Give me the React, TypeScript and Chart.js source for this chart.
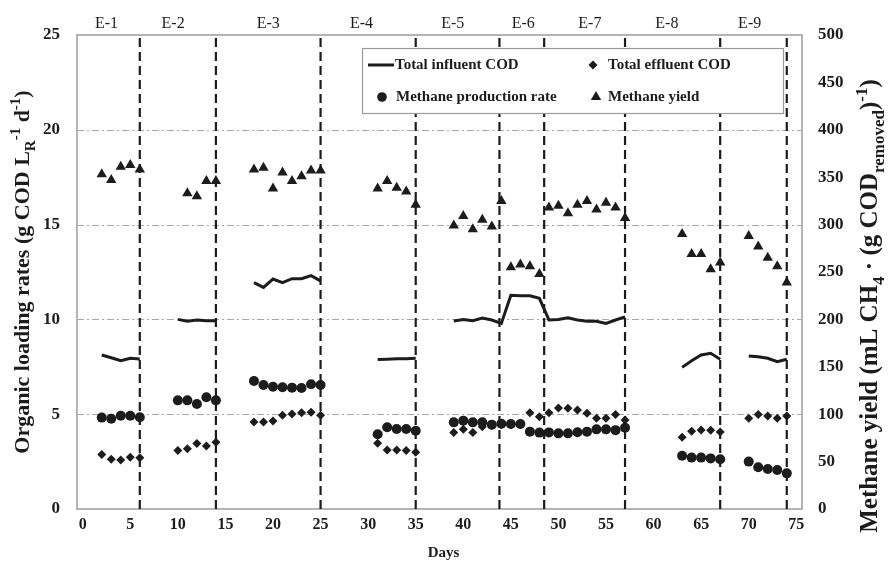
import React, { useEffect, useRef } from 'react';
import { Chart, registerables } from 'chart.js';

Chart.register(...registerables);

const FONT = '"Liberation Serif", "Times New Roman", serif';
const INK = '#1c1c1c';

// ---------- data ----------
const xTicks = [0, 5, 10, 15, 20, 25, 30, 35, 40, 45, 50, 55, 60, 65, 70, 75];
const yLeftGrid = [5, 10, 15, 20];

const phaseLabels = ['E-1', 'E-2', 'E-3', 'E-4', 'E-5', 'E-6', 'E-7', 'E-8', 'E-9'];
const phaseLabelDays = [2.5, 9.5, 19.5, 29.3, 38.9, 46.3, 53.3, 61.4, 70.1];
const phaseEndDays = [6, 14, 25, 35, 43.8, 48.5, 57, 67, 74];

const influentDays = [
  2, 3, 4, 5, 6,
  10, 11, 12, 13, 14,
  18, 19, 20, 21, 22, 23, 24, 25,
  31, 32, 33, 34, 35,
  39, 40, 41, 42, 43, 44, 45, 46, 47, 48, 49, 50, 51, 52, 53, 54, 55, 56, 57,
  63, 64, 65, 66, 67,
  70, 71, 72, 73, 74,
];
const influentCOD = [
  8.12, 7.98, 7.82, 7.95, 7.91,
  10.0, 9.9, 9.97, 9.93, 9.93,
  11.94, 11.69, 12.13, 11.94, 12.15, 12.15, 12.31, 12.03,
  7.88, 7.9, 7.92, 7.93, 7.95,
  9.92, 10.0, 9.93, 10.07, 9.97, 9.79, 11.27, 11.25, 11.25, 11.11, 9.97, 10.0, 10.09, 9.97, 9.9, 9.9, 9.79, 9.97, 10.13,
  7.47, 7.82, 8.12, 8.21, 7.9,
  8.07, 8.03, 7.95, 7.77, 7.9,
];

const effluentDays = influentDays;
const effluentCOD = [
  2.88, 2.62, 2.58, 2.73, 2.7,
  3.08, 3.18, 3.46, 3.32, 3.52,
  4.59, 4.59, 4.64, 4.94, 5.01, 5.08, 5.1, 4.94,
  3.47, 3.11, 3.11, 3.08, 2.99,
  4.03, 4.2, 4.03, 4.34, 4.4, 4.45, 4.45, 4.45, 5.07, 4.87, 5.07, 5.33, 5.31, 5.22, 5.05, 4.78, 4.78, 4.99, 4.69,
  3.78, 4.1, 4.17, 4.15, 4.06,
  4.78, 4.99, 4.9, 4.78, 4.9,
];

const methaneRateDays = influentDays;
const methaneRate = [
  4.82, 4.76, 4.92, 4.92, 4.84,
  5.73, 5.73, 5.54, 5.89, 5.73,
  6.75, 6.54, 6.45, 6.42, 6.4, 6.38, 6.58, 6.54,
  3.94, 4.31, 4.22, 4.22, 4.13,
  4.57, 4.66, 4.57, 4.57, 4.45, 4.5, 4.48, 4.48, 4.08, 4.03, 4.04, 3.99, 3.99, 4.05, 4.08, 4.2, 4.2, 4.16, 4.29,
  2.81, 2.71, 2.71, 2.67, 2.62,
  2.5, 2.2, 2.11, 2.06, 1.88,
];

const yieldDays = [
  2, 3, 4, 5, 6,
  11, 12, 13, 14,
  18, 19, 20, 21, 22, 23, 24, 25,
  31, 32, 33, 34, 35,
  39, 40, 41, 42, 43, 44,
  45, 46, 47, 48,
  49, 50, 51, 52, 53, 54, 55, 56, 57,
  63, 64, 65, 66, 67,
  70, 71, 72, 73, 74,
];
const methaneYield = [
  353, 347, 361, 363, 358,
  333, 330, 346, 346,
  358, 360, 338, 355, 346, 351, 357, 357,
  338, 346, 339, 335, 321,
  299, 309, 295, 305, 298, 325,
  255, 258, 256, 248,
  318, 320, 312, 321, 325, 316, 323, 318, 307,
  290, 269, 269, 253, 260,
  288, 277, 265, 256, 239,
];

// ---------- helpers ----------
function toPoints(days: number[], vals: number[], breakGaps = false) {
  const pts: { x: number; y: number | null }[] = [];
  for (let i = 0; i < days.length; i++) {
    if (breakGaps && i > 0 && days[i] - days[i - 1] > 1) {
      pts.push({ x: (days[i] + days[i - 1]) / 2, y: null });
    }
    pts.push({ x: days[i], y: vals[i] });
  }
  return pts;
}

type Seg = { t: string; k?: 'sub' | 'sup' };

function drawRich(ctx: CanvasRenderingContext2D, segs: Seg[], cx: number, cy: number, size: number) {
  const fontFor = (s: Seg) => `bold ${s.k ? Math.round(size * 0.66) : size}px ${FONT}`;
  let total = 0;
  const widths = segs.map((s) => {
    ctx.font = fontFor(s);
    const w = ctx.measureText(s.t).width;
    total += w;
    return w;
  });
  ctx.save();
  ctx.translate(cx, cy);
  ctx.rotate(-Math.PI / 2);
  ctx.fillStyle = INK;
  ctx.textBaseline = 'alphabetic';
  ctx.textAlign = 'left';
  let x = -total / 2;
  const base = size * 0.33;
  segs.forEach((s, i) => {
    ctx.font = fontFor(s);
    let y = base;
    if (s.k === 'sub') y += size * 0.28;
    if (s.k === 'sup') y -= size * 0.42;
    ctx.fillText(s.t, x, y);
    x += widths[i];
  });
  ctx.restore();
}

function drawMarker(ctx: CanvasRenderingContext2D, style: string, x: number, y: number, r: number) {
  ctx.beginPath();
  if (style === 'circle') {
    ctx.arc(x, y, r, 0, Math.PI * 2);
  } else if (style === 'diamond') {
    ctx.moveTo(x, y - r);
    ctx.lineTo(x + r, y);
    ctx.lineTo(x, y + r);
    ctx.lineTo(x - r, y);
    ctx.closePath();
  } else if (style === 'triangle') {
    const h = r * 1.5;
    const w = r * Math.sqrt(3);
    ctx.moveTo(x, y - r);
    ctx.lineTo(x + w / 2, y - r + h);
    ctx.lineTo(x - w / 2, y - r + h);
    ctx.closePath();
  }
  ctx.fill();
}

const decorPlugin = {
  id: 'decor',
  beforeDatasetsDraw(chart: any) {
    const { ctx, chartArea: a, scales } = chart;
    const yS = scales.y;
    const xS = scales.x;
    ctx.save();
    ctx.strokeStyle = '#a8a8a8';
    ctx.lineWidth = 1;
    ctx.setLineDash([7, 3, 2, 3]);
    yLeftGrid.forEach((v) => {
      const y = Math.round(yS.getPixelForValue(v)) + 0.5;
      ctx.beginPath();
      ctx.moveTo(a.left, y);
      ctx.lineTo(a.right, y);
      ctx.stroke();
    });
    ctx.setLineDash([]);
    ctx.strokeStyle = '#b4b4b4';
    ctx.lineWidth = 2;
    ctx.strokeRect(a.left, a.top, a.right - a.left, a.bottom - a.top);
    ctx.strokeStyle = INK;
    ctx.lineWidth = 2.2;
    ctx.setLineDash([9, 5]);
    phaseEndDays.forEach((d) => {
      const x = xS.getPixelForValue(d);
      ctx.beginPath();
      ctx.moveTo(x, a.top + 3);
      ctx.lineTo(x, a.bottom);
      ctx.stroke();
    });
    ctx.restore();
  },
  afterDraw(chart: any) {
    const { ctx, chartArea: a, scales } = chart;
    const xS = scales.x;
    ctx.save();
    ctx.fillStyle = INK;
    ctx.font = `16px ${FONT}`;
    ctx.textAlign = 'center';
    ctx.textBaseline = 'middle';
    phaseLabels.forEach((t, i) => {
      ctx.fillText(t, xS.getPixelForValue(phaseLabelDays[i]), 24);
    });
    ctx.font = `bold 15px ${FONT}`;
    ctx.fillText('Days', (a.left + a.right) / 2 + 4, 553);

    const lx = 362, ly = 48, lw = 421, lh = 65;
    ctx.fillStyle = '#ffffff';
    ctx.fillRect(lx, ly, lw, lh);
    ctx.strokeStyle = '#9a9a9a';
    ctx.lineWidth = 1.2;
    ctx.strokeRect(lx + 0.5, ly + 0.5, lw, lh);
    ctx.fillStyle = INK;
    ctx.strokeStyle = INK;
    ctx.font = `bold 15px ${FONT}`;
    ctx.textAlign = 'left';
    ctx.textBaseline = 'middle';
    const r1 = ly + 17, r2 = ly + 49;
    ctx.lineWidth = 3;
    ctx.beginPath();
    ctx.moveTo(368, r1);
    ctx.lineTo(394, r1);
    ctx.stroke();
    ctx.fillText('Total influent COD', 395, r1);
    drawMarker(ctx, 'diamond', 593, r1, 4.5);
    ctx.fillText('Total effluent COD', 608, r1);
    drawMarker(ctx, 'circle', 382, r2, 4.8);
    ctx.fillText('Methane production rate', 396, r2);
    drawMarker(ctx, 'triangle', 596, r2, 6);
    ctx.fillText('Methane yield', 608, r2);

    drawRich(ctx, [
      { t: 'Organic loading rates (g COD L' },
      { t: 'R', k: 'sub' },
      { t: '-1', k: 'sup' },
      { t: ' d' },
      { t: '-1', k: 'sup' },
      { t: ')' },
    ], 22, 272, 22);
    drawRich(ctx, [
      { t: 'Methane yield (mL CH' },
      { t: '4', k: 'sub' },
      { t: ' \u00B7 (g COD' },
      { t: 'removed', k: 'sub' },
      { t: ')' },
      { t: '-1', k: 'sup' },
      { t: ')' },
    ], 869, 306, 25);
    ctx.restore();
  },
};

export default function App() {
  const ref = useRef<HTMLCanvasElement | null>(null);

  useEffect(() => {
    if (!ref.current) return;
    const tickFont = { family: FONT, size: 17, weight: 'bold' as const };
    const chart = new Chart(ref.current, {
      type: 'scatter',
      data: {
        datasets: [
          {
            label: 'Methane production rate',
            data: toPoints(methaneRateDays, methaneRate),
            yAxisID: 'y',
            pointStyle: 'circle',
            pointRadius: 5,
            backgroundColor: INK,
            borderWidth: 0,
          },
          {
            label: 'Total effluent COD',
            data: toPoints(effluentDays, effluentCOD),
            yAxisID: 'y',
            pointStyle: 'rectRot',
            pointRadius: 4.5,
            backgroundColor: INK,
            borderWidth: 0,
          },
          {
            label: 'Methane yield',
            data: toPoints(yieldDays, methaneYield),
            yAxisID: 'y1',
            pointStyle: 'triangle',
            pointRadius: 6,
            backgroundColor: INK,
            borderWidth: 0,
          },
          {
            label: 'Total influent COD',
            data: toPoints(influentDays, influentCOD, true),
            yAxisID: 'y',
            showLine: true,
            spanGaps: false,
            pointRadius: 0,
            borderColor: INK,
            borderWidth: 3,
            tension: 0,
          } as any,
        ],
      },
      options: {
        responsive: false,
        animation: false,
        devicePixelRatio: 1,
        layout: { padding: { top: 35, left: 0, right: 0, bottom: 0 } },
        plugins: { legend: { display: false }, tooltip: { enabled: false }, title: { display: false } },
        scales: {
          x: {
            type: 'linear',
            min: -0.6,
            max: 75.6,
            grid: { display: false, drawTicks: false },
            border: { display: false },
            ticks: { font: { family: FONT, size: 16, weight: 'bold' }, color: INK, padding: 6, maxRotation: 0, autoSkip: false },
            afterBuildTicks: (s: any) => {
              s.ticks = xTicks.map((v) => ({ value: v }));
            },
            afterFit: (s: any) => {
              s.height = 54;
            },
          },
          y: {
            type: 'linear',
            position: 'left',
            min: 0,
            max: 25,
            grid: { display: false, drawTicks: false },
            border: { display: false },
            ticks: { stepSize: 5, font: tickFont, color: INK, padding: 17 },
            afterFit: (s: any) => {
              s.width = 77;
            },
          },
          y1: {
            type: 'linear',
            position: 'right',
            min: 0,
            max: 500,
            grid: { display: false, drawTicks: false },
            border: { display: false },
            ticks: { stepSize: 50, font: tickFont, color: INK, padding: 16 },
            afterFit: (s: any) => {
              s.width = 86;
            },
          },
        },
      },
      plugins: [decorPlugin],
    });
    return () => chart.destroy();
  }, []);

  return (
    <div style={{ position: 'fixed', left: 0, top: 0, width: 888, height: 563, background: '#fff' }}>
      <canvas ref={ref} width={888} height={563} style={{ width: 888, height: 563, display: 'block' }} />
    </div>
  );
}
